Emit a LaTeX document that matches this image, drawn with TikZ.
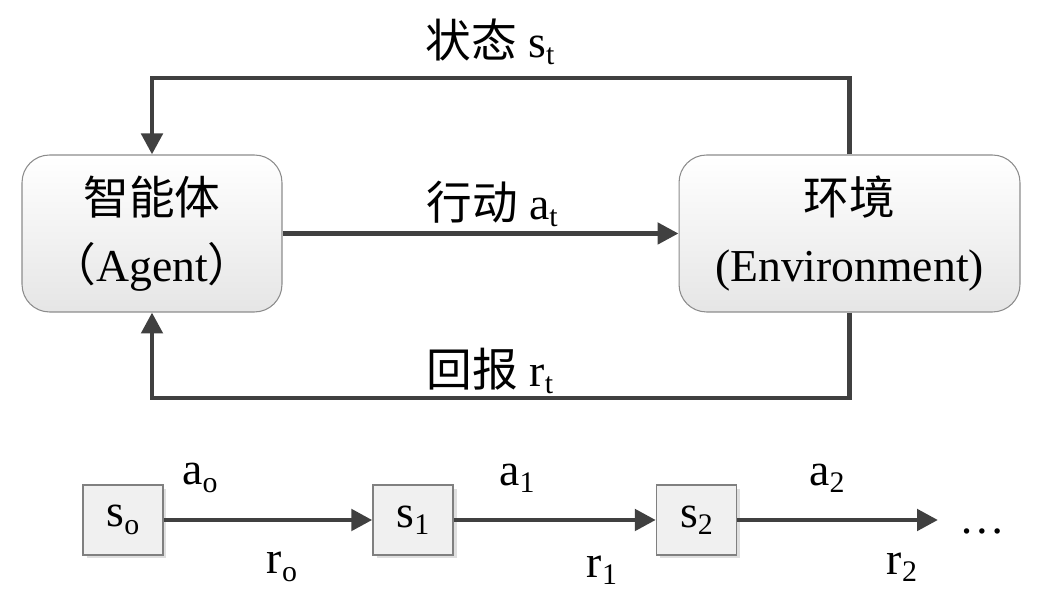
\documentclass[tikz,border=0pt]{standalone}
\usepackage{fontspec}
\setmainfont{Liberation Serif}
\newfontfamily\cjk{Noto Sans CJK SC}
\usetikzlibrary{arrows.meta}
\usetikzlibrary{positioning}
\usetikzlibrary{shadows}
\tikzstyle{every node}=[font=\fontsize{26}{30}\selectfont]
\tikzstyle{every path}=[line cap=butt,line join=miter]
\tikzstyle{flow}=[line width=2.8pt,draw=black!75,-{Triangle[length=4.2mm,width=4.2mm]}]
\tikzstyle{bigbox}=[draw=black!45,line width=0.6pt,rounded corners=0.55cm,top color=white,bottom color=black!10,minimum height=3.14cm,align=center,font=\fontsize{26}{38}\selectfont]
\tikzstyle{statebox}=[draw=black!50,line width=0.8pt,fill=black!6,minimum width=1.6cm,minimum height=1.4cm,drop shadow={opacity=0.25,shadow xshift=0.07cm,shadow yshift=-0.07cm}]
\newcommand{\lowidx}[1]{\raisebox{-0.35ex}{\fontsize{17}{17}\selectfont #1}}

\begin{document}
\begin{tikzpicture}[x=0.02cm,y=0.02cm]
  \useasboundingbox (0,0) rectangle (1043,597);
  % agent and environment
  \node[bigbox,minimum width=5.2cm] (agent) at (152,363.5) {{\cjk 智能体}\\{\cjk （}Agent{\cjk ）}};
  \node[bigbox,minimum width=6.82cm] (env) at (849.5,363.5) {{\cjk 环境}\\(Environment)};
  \coordinate (topline) at (0,519);
  \coordinate (botline) at (0,199);
  \draw[flow] (env.north) -- (env.north |- topline) -- (agent.north |- topline) -- (agent.north);
  \draw[flow] (agent.east) -- (env.west);
  \draw[flow] (env.south) -- (env.south |- botline) -- (agent.south |- botline) -- (agent.south);
  \node (lstate) at (490,555) {{\cjk 状态} s\lowidx{t}};
  \node (laction) at (492,393) {{\cjk 行动} a\lowidx{t}};
  \node (lreward) at (490,226) {{\cjk 回报} r\lowidx{t}};
  % trajectory
  \node[statebox] (s0) at (123,77) {s\lowidx{o}};
  \node[statebox] (s1) at (413,77) {s\lowidx{1}};
  \node[statebox] (s2) at (696.5,77) {s\lowidx{2}};
  \coordinate (tail) at (938,77);
  \node (dots) at (982,66) {\dots};
  \draw[flow] (s0) -- (s1);
  \draw[flow] (s1) -- (s2);
  \draw[flow] (s2) -- (tail);
  \node (a0) at (200,119) {a\lowidx{o}};
  \node (r0) at (282,30) {r\lowidx{o}};
  \node (a1) at (517,119) {a\lowidx{1}};
  \node (r1) at (602,27) {r\lowidx{1}};
  \node (a2) at (827,119) {a\lowidx{2}};
  \node (r2) at (902,30) {r\lowidx{2}};
\end{tikzpicture}
\end{document}
